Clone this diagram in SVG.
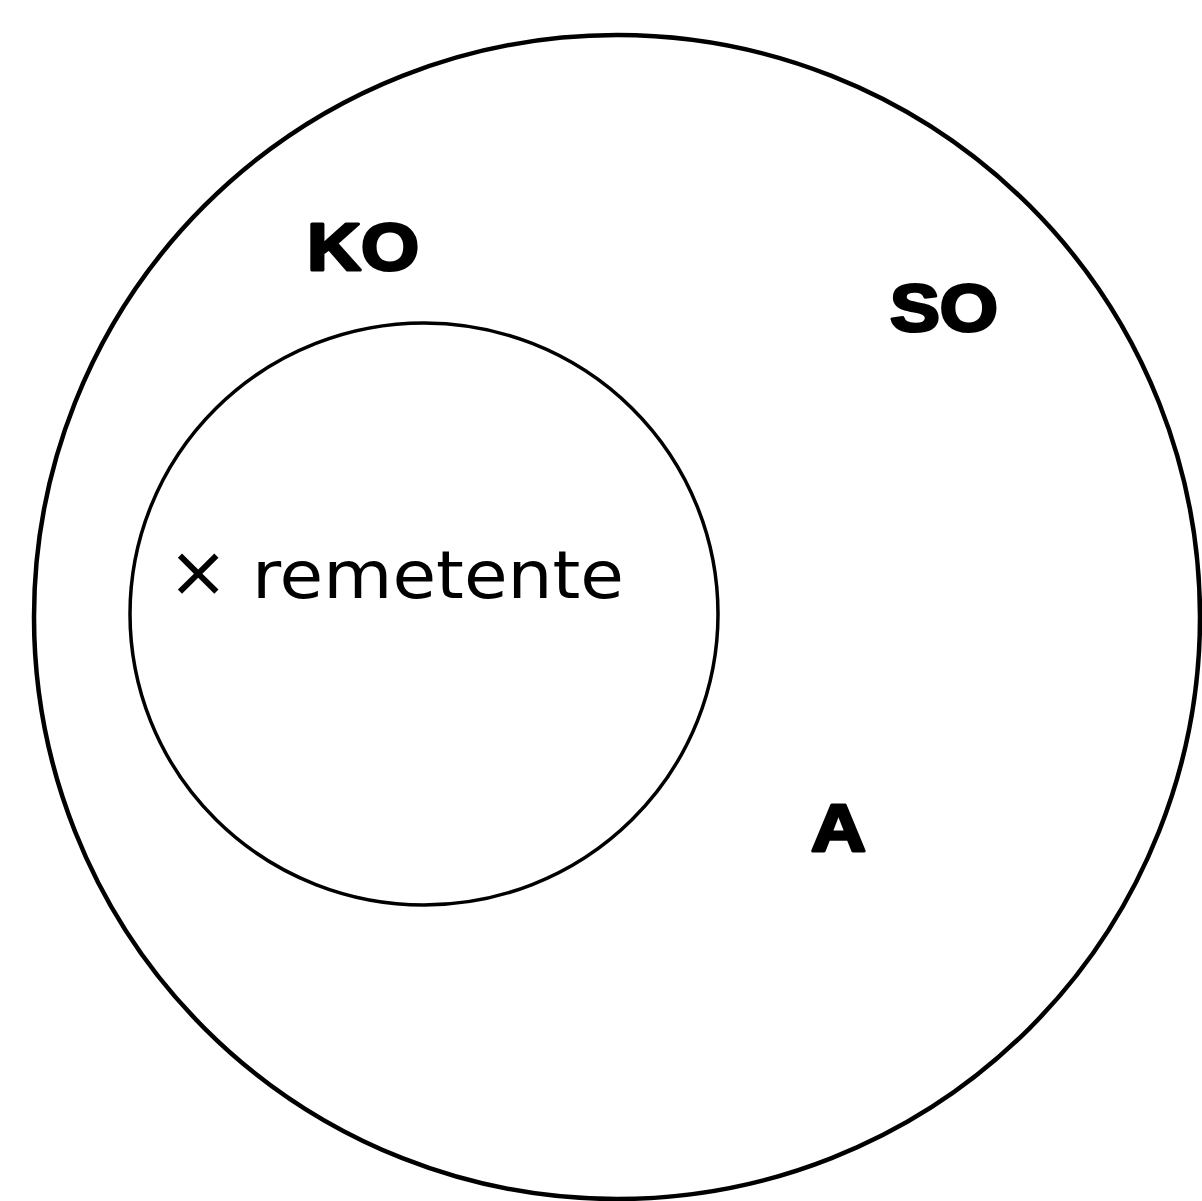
<svg xmlns="http://www.w3.org/2000/svg" width="1202" height="1201" viewBox="0 0 1202 1201">
<style>
.c{fill:none;stroke:#000}
.b{font-family:"Liberation Sans",Arial,sans-serif;font-weight:900;font-size:66px;fill:#000;stroke:#000;stroke-width:3;stroke-linejoin:round}
.r{font-family:"DejaVu Sans",sans-serif;font-size:66px;fill:#000}
</style>
<rect width="1202" height="1201" fill="#fff"/>
<g id="SO">
<ellipse class="c" cx="617" cy="617" rx="583" ry="582" stroke-width="4.5"/>
<text class="b" x="890" y="331" textLength="108" lengthAdjust="spacingAndGlyphs">SO</text>
</g>
<g id="A">
<text class="b" x="811" y="851" textLength="55" lengthAdjust="spacingAndGlyphs">A</text>
</g>
<g id="KO">
<ellipse class="c" cx="424" cy="614" rx="294" ry="291" stroke-width="3.5"/>
<text class="b" x="307" y="270" textLength="112" lengthAdjust="spacingAndGlyphs">KO</text>
<text class="r" x="168" y="598"><tspan font-size="72" dy="-2">×</tspan><tspan x="252" dy="2" textLength="372" lengthAdjust="spacingAndGlyphs">remetente</tspan></text>
</g>
<g id="connectors"/>
</svg>
